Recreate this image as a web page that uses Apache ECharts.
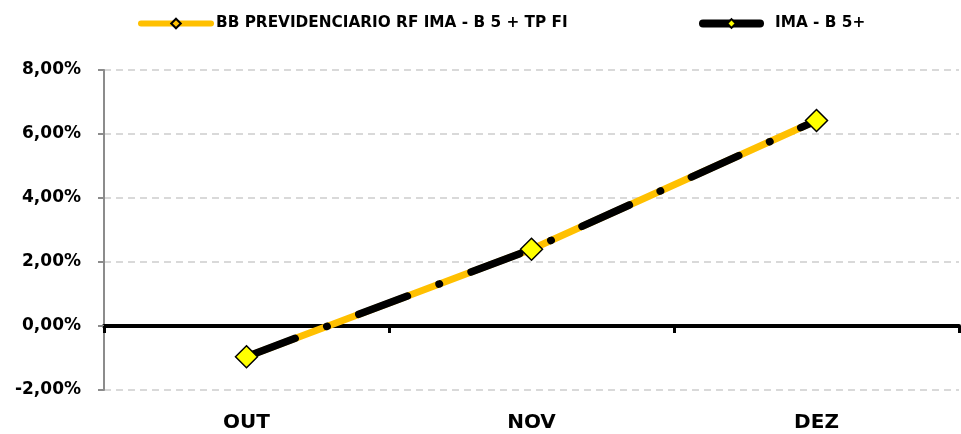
<!DOCTYPE html>
<html lang="pt">
<head>
    <meta charset="UTF-8">
    <title>Rentabilidade</title>
</head>
<body style="margin: 0">
<div id="container" style="height: 434px; width: 961px;"></div>
<script type="text/javascript" src="https://cdn.jsdelivr.net/npm/echarts@6/dist/echarts.min.js"></script>
<script type="text/javascript">
    const months = ['OUT', 'NOV', 'DEZ'];
    const fundName = 'BB PREVIDENCIARIO RF IMA - B 5 + TP FI';
    const benchName = 'IMA - B 5+';
    const fundValues = [-0.96, 2.40, 6.42];
    const benchValues = [-0.96, 2.40, 6.42];

    const font = '"DejaVu Sans", sans-serif';

    const myChart = echarts.init(document.getElementById('container'));

    const option = {
        animation: false,
        textStyle: {fontFamily: font},
        legend: [
            {
                data: [fundName],
                left: 133,
                top: 11,
                itemWidth: 70,
                itemHeight: 12,
                lineStyle: {width: 6, cap: 'round'},
                textStyle: {fontFamily: font, fontSize: 15.3, fontWeight: 'bold', color: '#000'}
            },
            {
                data: [benchName],
                left: 694,
                top: 11,
                itemWidth: 57,
                itemHeight: 11,
                lineStyle: {width: 8, type: 'solid', cap: 'round'},
                textStyle: {fontFamily: font, fontSize: 15.3, fontWeight: 'bold', color: '#000', padding: [0, 0, 0, 10]}
            }
        ],
        grid: {left: 104, right: 2, top: 70, bottom: 44},
        xAxis: [
            {
                type: 'category',
                data: months,
                position: 'bottom',
                axisLine: {show: false, onZero: false},
                axisTick: {show: false},
                axisLabel: {margin: 23, fontSize: 20, fontWeight: 'bold', color: '#000', fontFamily: font}
            },
            {
                type: 'category',
                data: months,
                position: 'bottom',
                axisLine: {show: true, onZero: true, lineStyle: {color: '#000', width: 4}},
                axisTick: {show: true, length: 7, lineStyle: {color: '#000', width: 3}},
                axisLabel: {show: false}
            }
        ],
        yAxis: {
            type: 'value',
            min: -2,
            max: 8,
            interval: 2,
            axisLine: {show: true, lineStyle: {color: '#8c8c8c', width: 2}},
            axisTick: {show: true, length: 6, lineStyle: {color: '#8c8c8c', width: 2}},
            splitLine: {lineStyle: {color: '#d9d9d9', width: 2, type: [7, 5]}},
            axisLabel: {
                margin: 23,
                fontSize: 17,
                fontWeight: 'bold',
                color: '#000',
                fontFamily: font,
                formatter: function (value) {
                    return value.toFixed(2).replace('.', ',') + '%';
                }
            }
        },
        series: [
            {
                name: fundName,
                type: 'line',
                data: fundValues,
                symbol: 'diamond',
                symbolSize: 10,
                itemStyle: {color: '#FFC000', borderColor: '#000', borderWidth: 1.5},
                lineStyle: {color: '#FFC000', width: 7}
            },
            {
                name: benchName,
                type: 'line',
                data: benchValues,
                symbol: 'diamond',
                symbolSize: 22,
                itemStyle: {color: '#FFFF00', borderColor: '#000', borderWidth: 1.5},
                lineStyle: {color: '#000', width: 7.5, type: [52, 33.75, 0.5, 33.75], cap: 'round'}
            }
        ]
    };
    myChart.setOption(option);
</script>
</body>
</html>
